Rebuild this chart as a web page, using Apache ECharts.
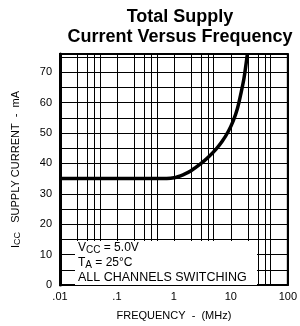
<!DOCTYPE html>
<html>
<head>
<meta charset="utf-8">
<script src="https://cdn.jsdelivr.net/npm/echarts@6/dist/echarts.min.js"></script>
<style>
  html, body { margin: 0; padding: 0; background: #fff; }
  #chart { width: 300px; height: 326px; }
</style>
</head>
<body>
<div id="chart"></div>
<script>
// 曲线数据：频率 (MHz) 与总电源电流 (mA)
const freqMHz = [0.01, 0.1, 0.5, 1, 1.5, 2, 3, 4, 5.5, 7, 9, 11, 13, 15, 17, 19.5]
const supplyCurrent = [35, 35, 35, 35.3, 36.4, 37.6, 40, 42, 44.7, 47.2, 50.5, 54, 58, 63, 68, 76]

// 坐标轴刻度
const xTickLabels = ['.01', '.1', '1', '10', '100']
const decades = [0.01, 0.1, 1, 10]
const minorSteps = [2, 3, 4, 5]
const gridFreqs = []
decades.forEach((d) => minorSteps.forEach((m) => gridFreqs.push(+(d * m).toPrecision(3))))

const font = 'Liberation Sans'
const chart = echarts.init(document.getElementById('chart'))

// 注释文字
const noteRich = {
  n: { fontFamily: font, fontSize: 12, fill: '#000' },
  s: { fontFamily: font, fontSize: 10, fill: '#000', padding: [5, 0, 0, 0] },
}

chart.setOption({
  animation: false,
  title: {
    text: 'Total Supply\nCurrent Versus Frequency',
    left: 175,
    top: 2,
    textAlign: 'center',
    textStyle: { fontFamily: font, fontSize: 18, fontWeight: 'bold', color: '#000', lineHeight: 20 },
  },
  grid: {
    left: 60,
    right: 8,
    top: 54,
    bottom: 40,
    show: true,
    borderColor: '#000',
    borderWidth: 2,
  },
  xAxis: {
    type: 'log',
    logBase: 10,
    min: 0.01,
    max: 100,
    name: 'FREQUENCY  -  (MHz)',
    nameLocation: 'middle',
    nameGap: 25,
    nameTextStyle: { fontFamily: font, fontSize: 11, color: '#000' },
    axisLine: { lineStyle: { color: '#000', width: 2 } },
    axisTick: { show: false },
    axisLabel: {
      fontFamily: font,
      fontSize: 11,
      color: '#000',
      margin: 6,
      formatter: (v) => xTickLabels[Math.round(Math.log10(v)) + 2] || '',
    },
    splitLine: { show: true, lineStyle: { color: '#000', width: 1 } },
  },
  yAxis: {
    type: 'value',
    min: 0,
    max: 76,
    interval: 5,
    name: '{n|I}{s|CC}{n|   SUPPLY CURRENT  -  mA}',
    nameLocation: 'middle',
    nameGap: 38,
    nameTextStyle: {
      rich: {
        n: { fontFamily: font, fontSize: 11, color: '#000' },
        s: { fontFamily: font, fontSize: 9, color: '#000', padding: [4, 0, 0, 0] },
      },
    },
    axisLine: { show: true, lineStyle: { color: '#000', width: 3 } },
    axisTick: { show: false },
    axisLabel: {
      fontFamily: font,
      fontSize: 11,
      color: '#000',
      margin: 8,
      formatter: (v) => (v % 10 === 0 && v <= 70 ? String(v) : ''),
    },
    splitLine: { show: true, lineStyle: { color: '#000', width: 1 } },
  },
  series: [
    {
      type: 'line',
      data: freqMHz.map((f, i) => [f, supplyCurrent[i]]),
      smooth: 0.3,
      showSymbol: false,
      lineStyle: { color: '#000', width: 3.5 },
      markLine: {
        silent: true,
        symbol: 'none',
        label: { show: false },
        lineStyle: { color: '#000', width: 1, type: 'solid' },
        data: gridFreqs.map((f) => ({ xAxis: f })),
      },
      z: 3,
    },
  ],
  graphic: [
    { type: 'rect', z: 100, shape: { x: 75, y: 241, width: 182, height: 44 }, style: { fill: '#fff' } },
    { type: 'text', z: 101, x: 78, y: 240, style: { text: '{n|V}{s|CC}{n| = 5.0V}', rich: noteRich } },
    { type: 'text', z: 101, x: 78, y: 255, style: { text: '{n|T}{s|A}{n| = 25°C}', rich: noteRich } },
    {
      type: 'text',
      z: 101,
      x: 78,
      y: 271,
      style: { text: 'ALL CHANNELS SWITCHING', fontFamily: font, fontSize: 12.5, fill: '#000' },
    },
  ],
})

window.addEventListener('resize', () => chart.resize())
</script>
</body>
</html>
